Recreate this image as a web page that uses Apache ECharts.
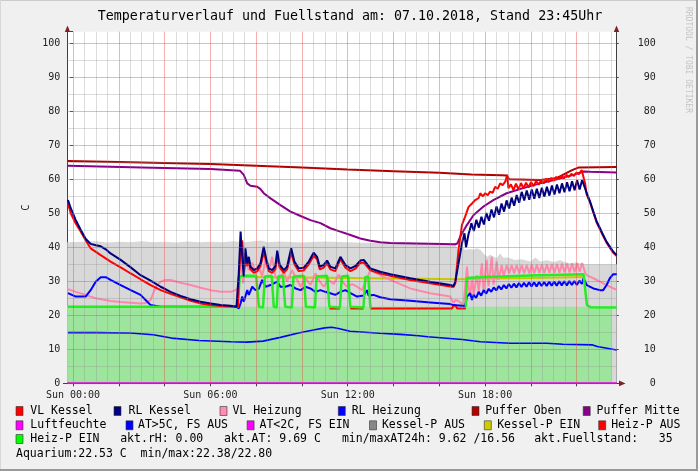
<!DOCTYPE html>
<html><head><meta charset="utf-8">
<script src="https://cdn.jsdelivr.net/npm/echarts@6/dist/echarts.min.js"></script>
<style>html,body{margin:0;padding:0;background:#f0f0f0}#c{width:698px;height:471px}</style>
</head><body><div id="c"></div>
<script>
// ---------- DATA (hours since Sun 00:00, value in C) ----------
const titleText = 'Temperaturverlauf und Fuellstand am: 07.10.2018, Stand 23:45Uhr';
const xLabelHours = [0, 6, 12, 18];
const xLabels = ['Sun 00:00', 'Sun 06:00', 'Sun 12:00', 'Sun 18:00'];
const yTickValues = [0, 10, 20, 30, 40, 50, 60, 70, 80, 90, 100];

const fuellstand = [[-0.25,41.5],[0.5,41.6],[1,41.8],[1.5,41.4],[2,41.6],[2.5,41.5],[3,41.8],[3.5,41.5],[4,41.6],[4.5,41.4],[5,41.7],[5.5,41.5],[6,41.6],[6.5,41.5],[7,41.8],[7.5,41.5],[8.2,42.0],[8.5,41.5],[9,41.7],[10,41.4],[11,41.7],[12,41.5],[13,41.3],[14,41.4],[15,41.1],[16,41.0],[16.7,40.8],[16.85,39.2],[17.0,40.2],[17.13,39.2],[17.3,39.5],[17.5,39.3],[17.64,39.7],[17.8,39.2],[17.93,38.2],[18.1,37.2],[18.22,37.8],[18.5,36.8],[18.66,38.2],[18.8,36.9],[19.0,37.0],[19.3,36.3],[19.6,36.5],[19.97,35.8],[20.2,37.0],[20.4,35.8],[20.7,36.2],[21.0,35.7],[21.28,36.3],[21.5,35.6],[21.72,35.3],[22.0,35.6],[22.3,35.0],[23.75,35.0]];
const aquarium = [[-0.25,22.6],[4,22.5],[8,22.5],[12,22.6],[16,22.5],[20,22.5],[23.53,22.5]];
const luftfeuchte = [[-0.25,0],[23.75,0]];
const aussenTemp = [[-0.22,14.9],[1,14.9],[2.5,14.8],[3.5,14.3],[4.3,13.3],[5.5,12.6],[6.9,12.2],[7.6,12.1],[8.3,12.4],[9.06,13.5],[9.8,14.7],[10.5,15.7],[11.0,16.3],[11.3,16.5],[11.6,16.1],[12.1,15.3],[13.4,14.7],[14.3,14.4],[15.1,14.0],[15.5,13.7],[17.0,12.9],[17.8,12.2],[19.1,11.8],[20.7,11.8],[21.4,11.5],[22.7,11.3],[22.9,10.8],[23.75,9.8]];
const pufferOben = [[-0.22,65.4],[2,65.1],[4,64.8],[6,64.5],[8,64.0],[10,63.5],[12,62.9],[14,62.4],[16,61.9],[17.4,61.4],[18.7,61.2],[18.95,61.1],[19.05,60.0],[20.4,59.8],[21.1,60.3],[21.8,62.7],[22.1,63.5],[23.75,63.6]];
const pufferMitte = [[-0.22,64.0],[3,63.5],[6,63.0],[7.30,62.5],[7.46,61.3],[7.61,58.8],[7.75,58.1],[8.05,57.8],[8.19,57.1],[8.33,55.9],[8.63,54.4],[9.06,52.4],[9.50,50.5],[9.94,49.2],[10.37,48.0],[10.81,47.1],[11.24,45.6],[11.68,44.6],[12.12,43.6],[12.55,42.6],[12.99,41.9],[13.42,41.5],[13.86,41.3],[16.70,40.9],[16.80,41.2],[16.91,43.1],[17.21,46.6],[17.50,49.5],[17.93,52.0],[18.36,53.9],[18.94,55.9],[19.66,57.4],[20.41,58.8],[21.14,60.0],[21.86,61.3],[22.30,62.3],[22.6,62.2],[23.75,62.0]];
const kesselPEin = [[7.30,31.3],[10,31.1],[13,30.9],[16.9,30.6],[18,30.8],[20,31.0],[22.37,31.3]];
const heizPAus = [[11.21,22.0],[11.66,22.0],[11.70,null],[12.11,22.0],[12.69,22.0],[12.75,null],[12.99,22.0],[16.55,22.0],[16.62,22.8],[16.72,22.8],[16.78,22.0],[17.16,22.0]];
const heizPEin = [[-0.22,22.5],[7.20,22.5],[7.28,31.4],[7.40,31.6],[8.00,31.6],[8.12,22.5],[8.30,22.3],[8.38,31.4],[8.68,31.6],[8.77,22.5],[8.90,22.3],[8.96,31.4],[9.17,31.6],[9.27,22.5],[9.56,22.3],[9.63,31.4],[10.09,31.6],[10.17,22.5],[10.57,22.3],[10.64,31.4],[11.10,31.6],[11.20,22.5],[11.66,22.3],[11.74,31.4],[12.02,31.6],[12.11,22.5],[12.69,22.3],[12.77,31.3],[12.90,31.3],[12.99,22.4],[13.05,22.3],[13.10,null],[17.16,22.5],[17.20,31.0],[18,31.3],[20,31.7],[22.30,32.1],[22.37,32.0],[22.45,23.0],[22.6,22.4],[23.75,22.3]];
const vlHeizung = [[-0.22,27.7],[0.12,26.9],[0.55,26.0],[0.99,25.0],[1.64,24.2],[2.08,23.9],[2.52,23.7],[2.95,23.5],[3.17,23.6],[3.39,24.5],[3.61,28.4],[3.83,29.9],[4.04,30.4],[4.26,30.4],[4.70,29.6],[5.14,28.9],[5.57,28.1],[6.01,27.4],[6.45,26.9],[6.88,26.9],[7.10,27.4],[7.20,28.0],
[7.32,37.2],[7.43,29.4],[7.53,36.3],[7.68,33.3],[7.83,35.5],[7.97,32.3],[8.12,34.3],[8.26,31.4],[8.41,36.3],[8.55,32.8],[8.70,37.2],[8.84,31.4],[8.99,30.4],[9.21,32.8],[9.35,29.9],[9.57,33.3],[9.79,30.4],[9.94,28.4],[10.15,31.0],[10.37,28.9],[10.59,32.3],[10.73,30.4],[10.95,28.4],[11.17,30.4],[11.39,29.2],[11.61,32.0],[11.75,30.0],[11.97,28.4],[12.19,29.2],[12.41,28.4],[12.63,27.4],[12.84,30.9],[12.99,33.3],[13.42,31.8],[13.86,30.4],[14.73,27.9],[15.60,26.5],[16.48,25.5],[16.62,23.6],[16.70,24.5],[16.84,24.2],[16.91,24.5],[17.06,23.0],[17.13,22.6],
[17.21,34.3],[17.28,28.4],[17.35,25.5],[17.43,31.4],[17.50,26.0],[17.64,31.8],[17.72,27.0],[17.86,35.3],[17.93,27.5],[18.07,36.3],[18.15,28.5],[18.29,37.2],[18.37,29.0],[18.51,35.8],[18.59,30.5],[18.73,34.8],[18.81,31.5],[18.95,34.8],[19.05,32.3],[19.16,34.8],[19.27,32.3],[19.38,34.8],[19.49,32.3],[19.60,34.8],[19.71,32.3],[19.82,34.8],[19.93,32.3],[20.04,34.9],[20.15,32.3],[20.26,34.9],[20.37,32.4],[20.48,35.0],[20.59,32.4],[20.70,35.0],[20.81,32.5],[20.92,35.1],[21.03,32.5],[21.14,35.1],[21.25,32.5],[21.36,35.2],[21.47,32.6],[21.58,35.2],[21.69,32.6],[21.80,35.3],[21.91,32.7],[22.02,35.3],[22.13,32.8],[22.24,35.4],[22.37,32.5],[22.44,31.8],[22.73,30.9],[23.02,29.9],[23.31,28.9],[23.60,27.9],[23.75,27.6]];
const rlHeizung = [[-0.22,26.5],[0.12,25.5],[0.55,25.5],[0.77,27.4],[0.99,29.9],[1.21,31.2],[1.43,31.2],[1.64,30.4],[2.08,28.9],[2.52,27.4],[2.95,26.0],[3.17,24.5],[3.39,23.0],[3.83,22.5],[7.14,22.5],[7.20,22.0],[7.24,22.0],[7.32,23.5],[7.39,25.5],[7.46,24.0],[7.61,27.4],[7.68,26.0],[7.83,28.4],[7.97,27.4],[8.12,27.8],[8.26,30.4],[8.41,28.4],[8.63,28.9],[8.92,29.9],[9.06,28.4],[9.28,28.4],[9.50,28.9],[9.72,27.9],[9.94,27.4],[10.15,28.4],[10.37,27.9],[10.59,26.9],[10.81,27.4],[11.02,26.9],[11.24,26.5],[11.46,26.0],[11.68,26.9],[11.90,27.4],[12.12,26.5],[12.41,25.5],[12.70,25.8],[12.84,27.4],[12.91,25.8],[13.13,26.0],[13.42,25.3],[13.86,24.7],[14.73,24.3],[15.60,23.8],[16.48,23.3],[16.62,23.0],[17.13,22.7],[17.21,25.5],
[17.35,26.5],[17.43,24.5],[17.50,26.0],[17.61,25.1],[17.72,26.9],[17.83,25.8],[17.94,27.4],[18.05,26.4],[18.16,27.8],[18.27,26.9],[18.38,28.2],[18.49,27.3],[18.60,28.6],[18.71,27.6],[18.82,28.9],[18.93,27.9],[19.04,29.2],[19.15,28.1],[19.26,29.3],[19.37,28.2],[19.48,29.5],[19.59,28.3],[19.70,29.6],[19.81,28.4],[19.92,29.7],[20.03,28.5],[20.14,29.7],[20.25,28.5],[20.36,29.8],[20.47,28.6],[20.58,29.8],[20.69,28.6],[20.80,29.9],[20.91,28.7],[21.02,29.9],[21.13,28.7],[21.24,30.0],[21.35,28.8],[21.46,30.0],[21.57,28.8],[21.68,30.1],[21.79,28.9],[21.90,30.1],[22.01,28.9],[22.12,30.2],[22.23,29.2],[22.30,30.9],[22.44,28.9],[22.73,27.9],[23.02,27.4],[23.16,27.4],[23.31,28.9],[23.45,30.9],[23.60,32.1],[23.75,32.1]];
const vlKessel = [[-0.22,52.9],[-0.10,50.0],[0.12,47.0],[0.34,44.6],[0.55,42.1],[0.77,39.7],[1.21,37.7],[1.64,35.8],[2.08,34.1],[2.52,32.3],[2.95,30.6],[3.39,28.9],[3.83,27.4],[4.26,26.3],[4.70,25.3],[5.14,24.3],[5.57,23.5],[6.01,23.0],[6.45,22.7],[7.10,22.5],[7.20,22.4],
[7.24,30.0],[7.32,40.0],[7.39,42.0],[7.46,33.0],[7.53,38.0],[7.61,34.5],[7.68,36.0],[7.75,33.5],[7.90,32.5],[8.05,33.0],[8.19,34.5],[8.33,38.5],[8.45,35.5],[8.55,33.0],[8.70,32.5],[8.84,33.5],[8.92,37.5],[9.03,34.0],[9.21,32.5],[9.35,33.5],[9.53,38.5],[9.67,35.0],[9.86,33.0],[10.08,33.2],[10.30,35.0],[10.51,37.5],[10.66,36.5],[10.78,33.5],[10.95,34.0],[11.10,35.3],[11.24,33.5],[11.46,33.0],[11.68,36.5],[11.90,34.0],[12.12,33.0],[12.34,33.7],[12.55,35.4],[12.70,35.5],[12.84,34.4],[12.99,33.2],[13.42,32.3],[13.86,31.6],[14.73,30.4],[15.60,29.4],[16.48,28.5],[16.62,28.3],
[16.70,29.4],[16.84,39.2],[16.99,46.6],[17.13,49.0],[17.28,51.9],[17.43,52.9],[17.57,53.9],[17.72,54.5],[17.79,55.9],[17.90,55.0],[18.01,55.9],[18.12,55.3],[18.22,56.4],[18.33,56.0],[18.44,57.8],[18.55,57.2],[18.66,58.8],[18.77,58.3],[18.88,59.3],[18.97,61.3],[19.02,57.4],[19.13,58.5],[19.24,56.8],[19.35,58.7],[19.46,57.0],[19.57,58.9],[19.68,57.3],[19.79,59.0],[19.90,57.6],[20.01,59.2],[20.12,58.0],[20.23,59.5],[20.34,58.4],[20.45,59.8],[20.56,58.8],[20.67,60.1],[20.78,59.2],[20.89,60.4],[21.00,59.6],[21.11,60.7],[21.22,60.0],[21.33,61.0],[21.44,60.3],[21.55,61.3],[21.66,60.7],[21.77,61.6],[21.88,61.0],[21.99,62.0],[22.10,61.5],[22.22,62.7],[22.37,58.8],[22.44,55.5],[22.59,53.1],[22.73,50.2],[22.88,47.2],[23.02,45.3],[23.16,43.3],[23.31,41.3],[23.45,39.9],[23.60,38.4],[23.75,37.4]];
const rlKessel = [[-0.22,53.9],[-0.10,51.5],[0.12,48.0],[0.34,45.1],[0.55,42.5],[0.77,41.0],[1.00,40.6],[1.21,40.3],[1.43,39.4],[1.64,38.2],[2.08,36.3],[2.52,34.1],[2.95,31.8],[3.39,30.2],[3.83,28.4],[4.26,26.9],[4.70,25.7],[5.14,24.7],[5.57,24.0],[6.01,23.5],[6.45,23.0],[6.88,22.8],[7.14,22.5],[7.20,22.3],
[7.24,32.3],[7.32,44.6],[7.39,37.2],[7.46,31.4],[7.53,39.7],[7.61,35.3],[7.68,37.2],[7.75,34.3],[7.90,33.3],[8.05,33.8],[8.19,35.3],[8.33,40.2],[8.45,36.3],[8.55,33.8],[8.70,33.3],[8.84,34.5],[8.92,39.0],[9.03,34.8],[9.21,33.3],[9.35,34.3],[9.53,39.7],[9.67,35.8],[9.86,33.8],[10.08,34.0],[10.30,35.8],[10.51,38.4],[10.66,37.2],[10.78,34.3],[10.95,34.8],[11.10,36.1],[11.24,34.3],[11.46,33.8],[11.68,37.2],[11.90,34.8],[12.12,33.8],[12.34,34.5],[12.55,36.1],[12.70,36.3],[12.84,35.1],[12.99,33.8],[13.42,32.8],[13.86,32.1],[14.73,30.9],[15.60,29.9],[16.48,28.9],[16.62,28.6],
[16.70,29.9],[16.84,35.3],[16.99,41.2],[17.10,44.1],[17.17,40.0],[17.21,39.5],[17.28,44.0],[17.35,45.5],
[17.40,47.1],[17.51,44.8],[17.62,48.1],[17.73,45.8],[17.84,49.0],[17.95,46.7],[18.06,50.1],[18.17,47.8],[18.28,51.1],[18.39,48.8],[18.50,52.0],[18.61,49.6],[18.72,52.9],[18.83,50.5],[18.94,53.8],[19.05,51.4],[19.16,54.6],[19.27,52.2],[19.38,55.4],[19.49,53.1],[19.60,56.3],[19.71,53.8],[19.82,56.7],[19.93,54.0],[20.04,57.0],[20.15,54.3],[20.26,57.2],[20.37,54.5],[20.48,57.5],[20.59,54.9],[20.70,57.8],[20.81,55.2],[20.92,58.2],[21.03,55.5],[21.14,58.5],[21.25,55.9],[21.36,58.8],[21.47,56.2],[21.58,59.1],[21.69,56.5],[21.80,59.4],[21.91,56.8],[22.02,59.7],[22.13,57.0],[22.24,59.8],[22.30,60.3],
[22.44,55.9],[22.59,53.4],[22.73,50.5],[22.88,47.5],[23.02,45.6],[23.16,43.6],[23.31,41.6],[23.45,40.2],[23.60,38.7],[23.75,37.7]];

const legendRows = [
  [['VL Kessel','#ff0000'],['RL Kessel','#000080'],['VL Heizung','#ff8fb0'],['RL Heizung','#0000ff'],['Puffer Oben','#b00000'],['Puffer Mitte','#880088']],
  [['Luftfeuchte','#ff00ff'],['AT>5C, FS AUS','#0000ff'],['AT<2C, FS EIN','#ff00ff'],['Kessel-P AUS','#888888'],['Kessel-P EIN','#cccc00'],['Heiz-P AUS','#ff0000']],
  [['Heiz-P EIN','#00ff00']]
];
const infoRow3 = ['akt.rH: 0.00', 'akt.AT: 9.69 C', 'min/maxAT24h: 9.62 /16.56', 'akt.Fuellstand:   35'];
const infoRow4 = 'Aquarium:22.53 C  min/max:22.38/22.80';

// ---------- LAYOUT ----------
const G = {left: 67.3, top: 31.7, right: 616.7, bottom: 383.3};
const MONO = 'DejaVu Sans Mono';
const legendSquareX = [[16,114,220,338.3,472,583.2],[16,126,247.1,369.5,484.3,598.7],[16]];
const legendTextX = [[30.3,128.6,232.4,351.7,485.2,596.5],[30.3,138,259.5,381.9,497.2,611.2],[30.3]];
const legendRowY = [411, 425.3, 439, 453.7];
const infoX = [120.2, 223.9, 341.9, 534.2];

const chart = echarts.init(document.getElementById('c'), null, {renderer: 'canvas'});

function line(name, data, color, width, z) {
  return {type: 'line', name, data, symbol: 'none', showSymbol: false, silent: true, animation: false,
    connectNulls: false, z: z, emphasis: {disabled: true},
    lineStyle: {color, width}, itemStyle: {color}};
}
function area(name, data, color) {
  return {type: 'line', name, data, symbol: 'none', showSymbol: false, silent: true, animation: false,
    z: 1, emphasis: {disabled: true}, lineStyle: {width: 0, color}, itemStyle: {color},
    areaStyle: {color, opacity: 1}};
}

// grid lines as mark lines (above areas, below data lines)
const gridMarks = [];
for (let h = 0; h <= 23.5; h += 0.5) {
  const major = (h % 2 === 0);
  gridMarks.push({xAxis: h, lineStyle: {color: major ? 'rgba(235,70,70,0.42)' : 'rgba(140,140,140,0.30)', width: 1, type: 'solid'}});
}
for (let v = 5; v <= 100; v += 5) {
  const major = (v % 10 === 0);
  gridMarks.push({yAxis: v, lineStyle: {color: major ? 'rgba(235,70,70,0.42)' : 'rgba(140,140,140,0.30)', width: 1, type: 'solid'}});
}

const yMax = (G.bottom - G.top) / 3.4;
const yLabel = {fontFamily: MONO, fontSize: 10, color: '#222', formatter: v => (yTickValues.indexOf(Math.round(v*1000)/1000) >= 0 ? String(v) : '')};

const graphics = [];
// frame
graphics.push({type:'rect', shape:{x:0,y:0,width:698,height:1}, style:{fill:'#cbcbcb'}, z: 100});
graphics.push({type:'rect', shape:{x:0,y:0,width:1,height:471}, style:{fill:'#d8d8d8'}, z: 100});
graphics.push({type:'rect', shape:{x:696,y:0,width:2,height:471}, style:{fill:'#9a9a9a'}, z: 100});
graphics.push({type:'rect', shape:{x:0,y:469,width:698,height:2}, style:{fill:'#9a9a9a'}, z: 100});
// title
graphics.push({type:'text', x:350, y:17, style:{text:titleText, fontFamily:MONO, fontSize:13.3, fill:'#000', textAlign:'center', textVerticalAlign:'middle'}});
// watermark
graphics.push({type:'text', x:688.5, y:7, rotation:-Math.PI/2, style:{text:'RRDTOOL / TOBI OETIKER', fontFamily:MONO, fontSize:8, fill:'#c4c4c4', textAlign:'left', textVerticalAlign:'middle'}});
// axes lines + arrows
graphics.push({type:'line', shape:{x1:67.5,y1:383.3,x2:67.5,y2:29}, style:{stroke:'#404040', lineWidth:1}, z: 1});
graphics.push({type:'line', shape:{x1:616.5,y1:383.3,x2:616.5,y2:29}, style:{stroke:'#404040', lineWidth:1}, z: 1});
graphics.push({type:'line', shape:{x1:63,y1:383.5,x2:620,y2:383.5}, style:{stroke:'#404040', lineWidth:1}, z: 1});
graphics.push({type:'polygon', shape:{points:[[64.8,32],[70.2,32],[67.5,25.5]]}, style:{fill:'#802020'}, z: 5});
graphics.push({type:'polygon', shape:{points:[[613.8,32],[619.2,32],[616.5,25.5]]}, style:{fill:'#802020'}, z: 5});
graphics.push({type:'polygon', shape:{points:[[619,380.6],[619,386.2],[625.5,383.4]]}, style:{fill:'#802020'}, z: 5});
// legend
legendRows.forEach((row, r) => {
  row.forEach((it, i) => {
    graphics.push({type:'rect', shape:{x:legendSquareX[r][i], y:legendRowY[r]-4.5, width:7, height:9}, style:{fill:it[1], stroke:'#333', lineWidth:0.6}});
    graphics.push({type:'text', x:legendTextX[r][i], y:legendRowY[r], style:{text:it[0], fontFamily:MONO, fontSize:11.5, fill:'#000', textAlign:'left', textVerticalAlign:'middle'}});
  });
});
infoRow3.forEach((t, i) => {
  graphics.push({type:'text', x:infoX[i], y:legendRowY[2], style:{text:t, fontFamily:MONO, fontSize:11.5, fill:'#000', textAlign:'left', textVerticalAlign:'middle'}});
});
graphics.push({type:'text', x:16, y:legendRowY[3], style:{text:infoRow4, fontFamily:MONO, fontSize:11.5, fill:'#000', textAlign:'left', textVerticalAlign:'middle'}});

const option = {
  backgroundColor: '#f0f0f0',
  animation: false,
  grid: {left: G.left, top: G.top, width: G.right - G.left, height: G.bottom - G.top, show: true, backgroundColor: '#ffffff', borderWidth: 0},
  xAxis: {type: 'value', min: -0.25, max: 23.75,
    axisLine: {show: false},
    axisTick: {show: true, length: 3, lineStyle: {color: '#404040'}, customValues: [0,2,4,6,8,10,12,14,16,18,20,22]},
    axisLabel: {show: true, margin: 7, fontFamily: MONO, fontSize: 10, color: '#222', customValues: xLabelHours,
      formatter: v => { const k = xLabelHours.indexOf(v); return k >= 0 ? xLabels[k] : ''; }},
    splitLine: {show: false}},
  yAxis: [
    {type: 'value', min: 0, max: yMax, interval: 10, position: 'left',
      name: 'C', nameLocation: 'middle', nameGap: 25, nameRotate: 90,
      nameTextStyle: {fontFamily: MONO, fontSize: 10.5, color: '#222'},
      axisLine: {show: false}, axisTick: {show: true, length: 3, lineStyle: {color: '#404040'}},
      axisLabel: Object.assign({margin: 7}, yLabel), splitLine: {show: false}},
    {type: 'value', min: 0, max: yMax, interval: 10, position: 'right',
      axisLine: {show: false}, axisTick: {show: true, length: 2, lineStyle: {color: '#404040'}},
      axisLabel: Object.assign({margin: 39, align: 'right'}, yLabel), splitLine: {show: false}}
  ],
  graphic: {elements: graphics},
  series: [
    area('Fuellstand', fuellstand, '#d8d8d8'),
    Object.assign(area('Aquarium', aquarium, '#9de59d'), {z: 1.5}),
    {type: 'line', name: 'grid', data: [], z: 2, silent: true, animation: false,
      markLine: {silent: true, symbol: ['none','none'], animation: false, label: {show: false}, emphasis: {disabled: true}, data: gridMarks}},
    line('Luftfeuchte', luftfeuchte, '#e000e0', 2, 3),
    line('AT', aussenTemp, '#0000ff', 1.6, 3),
    line('Puffer Mitte', pufferMitte, '#880088', 2, 3),
    line('Puffer Oben', pufferOben, '#b00000', 2, 3),
    line('Kessel-P EIN', kesselPEin, '#c8c800', 2, 3),
    line('Heiz-P AUS', heizPAus, '#ff0000', 2, 3),
    line('VL Heizung', vlHeizung, '#ff88aa', 2, 3),
    line('RL Heizung', rlHeizung, '#0000ff', 2, 3),
    line('Heiz-P EIN', heizPEin, '#22ee22', 2.5, 3),
    line('VL Kessel', vlKessel, '#ff0000', 2, 3),
    line('RL Kessel', rlKessel, '#000080', 2, 3)
  ]
};
chart.setOption(option);
</script>
</body></html>
